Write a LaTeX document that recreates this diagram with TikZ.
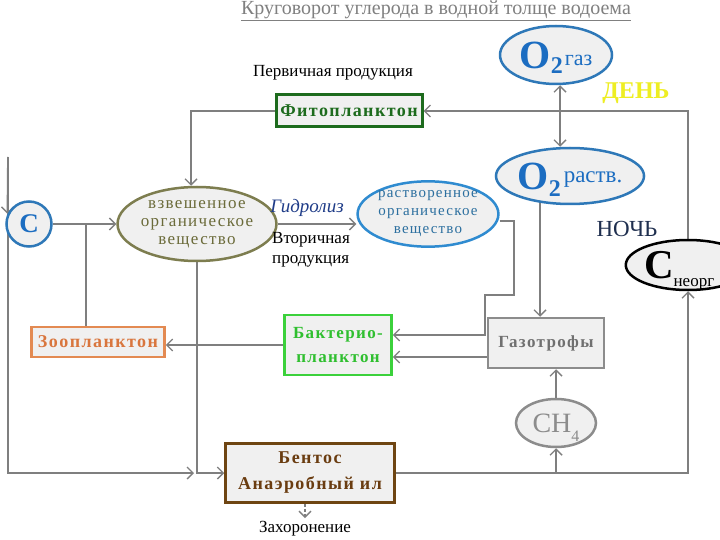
\documentclass[tikz,border=0pt]{standalone}
\usepackage{fontspec}
\setmainfont{Liberation Serif}
\newfontfamily\spfont[LetterSpace=8]{Liberation Serif}
\usepackage{xcolor}
\usepackage{tikz}
\usetikzlibrary{arrows.meta,positioning,backgrounds,shapes.geometric}
\definecolor{linegray}{HTML}{7F7F7F}
\definecolor{titlegray}{HTML}{808080}
\definecolor{boxfill}{HTML}{F0F0F0}
\definecolor{oblue}{HTML}{2E78B8}
\definecolor{otext}{HTML}{1C6DC1}
\definecolor{olive}{HTML}{7D7D4F}
\definecolor{olivetext}{HTML}{6B6B3A}
\definecolor{rastblue}{HTML}{2F8BD0}
\definecolor{rasttext}{HTML}{2C6F9F}
\definecolor{phgreen}{HTML}{1D6B1D}
\definecolor{zooorange}{HTML}{E38A52}
\definecolor{zootext}{HTML}{D9763E}
\definecolor{bakgreen}{HTML}{3BD13B}
\definecolor{baktext}{HTML}{2FBF2F}
\definecolor{gazgray}{HTML}{8C8C8C}
\definecolor{gaztext}{HTML}{707070}
\definecolor{benbrown}{HTML}{6E4512}
\definecolor{bentext}{HTML}{6A3C10}
\definecolor{dayyellow}{HTML}{EEEE22}
\definecolor{nightblue}{HTML}{1F2F4F}
\definecolor{hydroblue}{HTML}{1F3C88}
\newcommand{\fsz}[2]{\fontsize{#1}{#2}\selectfont}

\begin{document}
\begin{tikzpicture}[x=1pt,y=-1pt,
  arr/.style={draw=linegray,line width=1.8pt,-{Straight Barb[length=6pt,width=12pt,line width=1.4pt]}},
  biarr/.style={arr,{Straight Barb[length=6pt,width=12pt,line width=1.4pt]}-{Straight Barb[length=6pt,width=12pt,line width=1.4pt]}},
  plainln/.style={draw=linegray,line width=1.8pt},
  boxn/.style={draw,rectangle,line width=2.5pt,fill=boxfill,inner sep=0pt,align=center},
  oval/.style={draw,ellipse,line width=2.5pt,fill=boxfill,inner sep=0pt,align=center},
  bold/.style={font=\spfont\bfseries\fsz{18}{26}}]
  \useasboundingbox (0,0) rectangle (720,540);

  \node[font=\fsz{20}{24},text=titlegray] (title) at (436,11) {\underline{Круговорот углерода в водной толще водоема}};
  \node[oval,draw=oblue,text=otext,minimum width=112pt,minimum height=58pt] (O2gas) at (556,55)
    {{\fsz{40}{40}\bfseries O}\smash{\raisebox{-5pt}{\fsz{24}{24}\bfseries 2}}\hspace{2pt}\smash{\raisebox{3pt}{\fsz{22}{22}газ}}};
  \node[font=\bfseries\fsz{24}{24},text=dayyellow] (day) at (636,93) {ДЕНЬ};
  \node[font=\fsz{17}{20}] (prim) at (333,73) {Первичная продукция};
  \node[boxn,bold,draw=phgreen,text=phgreen,line width=3pt,minimum width=146pt,minimum height=32pt] (Phyto) at (349,111) {Фитопланктон};
  \node[oval,draw=oblue,text=otext,minimum width=130pt,minimum height=56pt] (O2rast) at (570,176)
    {{\fsz{40}{40}\bfseries O}\smash{\raisebox{-7pt}{\fsz{24}{24}\bfseries 2}}\hspace{3pt}\smash{\raisebox{7pt}{\fsz{23}{23}раств.}}};
  \node[font=\fsz{23}{23},text=nightblue] (night) at (627,229) {НОЧЬ};
  \node[oval,draw=black,minimum width=106pt,minimum height=50pt,text width=88pt,align=left] (Cneorg) at (688,265)
    {{\fsz{41}{41}\bfseries C}\smash{\raisebox{-8pt}{\fsz{17}{17}неорг}}};
  \node[draw=oblue,circle,line width=2.5pt,fill=boxfill,minimum size=45pt,inner sep=0pt,text=otext,font=\bfseries\fsz{27}{27}] (C) at (29,224) {C};
  \node[oval,draw=olive,text=olivetext,minimum width=128pt,minimum height=74pt,font=\spfont\fsz{17}{18}] (Vzv) at (197,224)
    {взвешенное\\органическое\\вещество};
  \node[font=\itshape\fsz{19}{20},text=hydroblue] (hydro) at (307,208) {Гидролиз};
  \node[font=\fsz{17}{20},align=left] (vtor) at (311,250) {Вторичная\\продукция};
  \node[oval,draw=rastblue,text=rasttext,minimum width=128pt,minimum height=62pt,font=\spfont\fsz{15}{18}] (Rast) at (428,214)
    {растворенное\\органическое\\вещество};
  \node[boxn,bold,draw=zooorange,text=zootext,minimum width=133pt,minimum height=30pt] (Zoo) at (98,342) {Зоопланктон};
  \node[boxn,bold,draw=bakgreen,text=baktext,font=\spfont\bfseries\fsz{17}{24},minimum width=107pt,minimum height=60pt] (Bakt) at (338,345) {Бактерио-\\планктон};
  \node[boxn,bold,draw=gazgray,text=gaztext,font=\spfont\bfseries\fsz{17}{20},minimum width=116pt,minimum height=50pt] (Gaz) at (546,343) {Газотрофы};
  \node[oval,draw=gazgray,text=gazgray,minimum width=80pt,minimum height=48pt] (CH4) at (556,423)
    {{\fsz{28}{28}CH}\smash{\raisebox{-9pt}{\fsz{16}{16}4}}};
  \node[boxn,bold,draw=benbrown,text=bentext,minimum width=169pt,minimum height=59pt] (Bentos) at (310,473) {Бентос\\Анаэробный ил};
  \node[font=\fsz{17}{20}] (Bur) at (305,529) {Захоронение};
  \coordinate (vx) at (560,0);
  \coordinate (ltop) at (8,157);

  \begin{pgfonlayer}{background}
    \fill[white] (0,0) rectangle (720,540);
    \draw[arr] (Cneorg.north) |- (Phyto.east);
    \draw[biarr] (O2gas.south -| vx) -- (O2rast.north -| vx);
    \draw[arr] (Phyto.west) -| ([xshift=-6pt]Vzv.north);
    \draw[arr] (C.east) -- (Vzv.west);
    \draw[plainln] ([xshift=-12pt]Zoo.north) -- ([xshift=-12pt]Zoo.north |- C.east);
    \draw[arr] (ltop) -- (C.155);
    \draw[arr] (ltop) |- ([xshift=-3pt]Vzv.south |- Bentos.west);
    \draw[arr] (Vzv.south) |- (Bentos.west);
    \draw[arr] (Vzv.east) -- (Vzv.east -| Rast.west);
    \draw[arr] ([yshift=-7pt]Rast.east) -- ++(14,0) -- ++(0,74) -- ++(-29,0) |- ([yshift=10pt]Bakt.east);
    \draw[arr] ([yshift=-14pt]Gaz.west) -- ([yshift=-14pt]Gaz.west -| Bakt.east);
    \draw[arr] (Bakt.west) -- (Bakt.west -| Zoo.east);
    \draw[arr] ([xshift=-6pt]Gaz.north |- O2rast.center) -- ([xshift=-6pt]Gaz.north);
    \draw[arr] (CH4.north) -- (CH4.north |- Gaz.south);
    \draw[arr] (Bentos.east) -| (Cneorg.south);
    \draw[arr] (Bentos.east -| CH4.south) -- (CH4.south);
    \draw[arr,line width=1.2pt,densely dashed] (Bentos.south -| Bur.north) -- (Bur.north);
  \end{pgfonlayer}
\end{tikzpicture}
\end{document}
